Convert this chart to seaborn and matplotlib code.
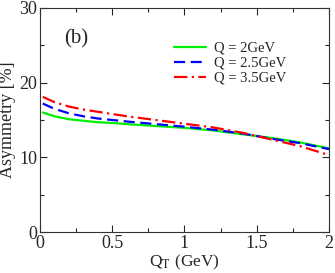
import numpy as np
import pandas as pd
import matplotlib
matplotlib.use("Agg")
import matplotlib.pyplot as plt
from matplotlib.ticker import MultipleLocator
import seaborn as sns

sns.set_style("ticks")
plt.rcParams['font.family'] = ['Liberation Serif', 'DejaVu Serif']
plt.rcParams['mathtext.fontset'] = 'stix'

qt = [0.02, 0.1, 0.2, 0.3, 0.4, 0.5, 0.6, 0.8, 1.0, 1.2, 1.4, 1.6, 1.8, 2.0]
asym_q2 = [16.0, 15.5, 15.1, 14.9, 14.7, 14.6, 14.45, 14.2, 13.95, 13.6, 13.1, 12.6, 12.0, 11.2]
asym_q25 = [17.2, 16.5, 15.9, 15.5, 15.2, 15.0, 14.8, 14.45, 14.1, 13.7, 13.2, 12.5, 11.9, 11.1]
asym_q35 = [18.1, 17.4, 16.8, 16.4, 16.1, 15.8, 15.5, 15.0, 14.5, 14.0, 13.3, 12.4, 11.5, 10.3]
labels = ["Q = 2GeV", "Q = 2.5GeV", "Q = 3.5GeV"]

df = pd.DataFrame({'QT': qt * 3,
                   'Asym': asym_q2 + asym_q25 + asym_q35,
                   'Q': [labels[0]] * len(qt) + [labels[1]] * len(qt) + [labels[2]] * len(qt)})

fig = plt.figure(figsize=(3.35, 2.73), dpi=100)
ax = fig.add_axes([0.119, 0.150, 0.863, 0.821])

colors = ['#00ee00', '#0000ff', '#ff0000']
styles = ['-', (0, (5, 2.5)), (0, (6, 2, 1, 2))]
for lab, c, ls in zip(labels, colors, styles):
    sub = df[df['Q'] == lab]
    sns.lineplot(x='QT', y='Asym', data=sub, ax=ax, color=c, linestyle=ls,
                 linewidth=1.6, label=lab)

ax.set_xlim(0, 2)
ax.set_ylim(0, 30)
ax.xaxis.set_major_locator(MultipleLocator(0.5))
ax.xaxis.set_minor_locator(MultipleLocator(0.25))
ax.yaxis.set_major_locator(MultipleLocator(10))
ax.yaxis.set_minor_locator(MultipleLocator(5))
ax.xaxis.set_major_formatter(plt.FuncFormatter(lambda v, p: '%g' % v))
ax.tick_params(which='both', direction='in', top=True, right=True, labelsize=13, pad=2)
ax.tick_params(which='major', length=5, width=0.8)
ax.tick_params(which='minor', length=3, width=0.8)
for s in ax.spines.values():
    s.set_linewidth(0.8)
    s.set_color('#333333')

ax.set_xlabel('Q$_\\mathrm{T}$ (GeV)', fontsize=12.5, labelpad=1)
ax.set_ylabel('Asymmetry [%]', fontsize=13, labelpad=2)
ax.text(0.17, 25.3, '(b)', fontsize=15)

ax.legend(loc='upper left', bbox_to_anchor=(0.43, 0.895), frameon=False, fontsize=10.5,
          handlelength=2.2, handletextpad=0.5, labelspacing=0.12, borderpad=0.2)

fig.savefig('out.png', dpi=100)
